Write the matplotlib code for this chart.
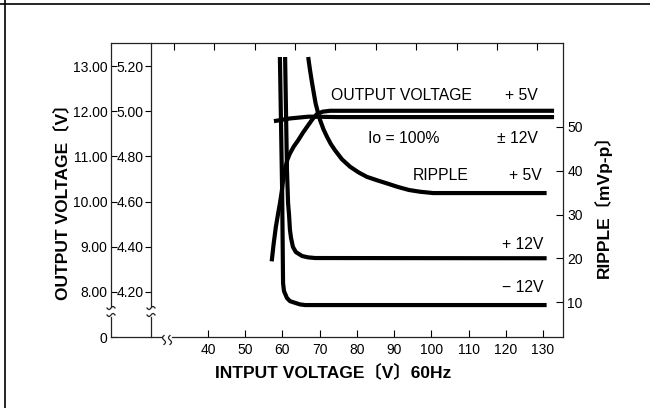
import numpy as np
import matplotlib
matplotlib.use("Agg")
import matplotlib.pyplot as plt
from matplotlib.lines import Line2D

plt.rcParams['font.family'] = ['Liberation Sans', 'Noto Sans CJK JP']

W, H = 650, 408

# input voltage (V) / output voltage +5V (5V scale)
out5_x = [57.1, 57.6, 58.2, 58.8, 59.3, 59.8, 60.15, 60.7, 61.3, 62.0, 63.0, 64.2, 65.5, 66.9, 68.2, 69.3, 70.8, 72.8, 133]
out5_y = [4.335, 4.41, 4.486, 4.545, 4.591, 4.645, 4.693, 4.745, 4.785, 4.813, 4.843, 4.871, 4.905, 4.938, 4.968, 4.988, 4.998, 5.002, 5.002]

# output voltage +-12V (12V scale)
out12_x = [57.7, 62, 67, 75, 133]
out12_y = [11.78, 11.84, 11.88, 11.87, 11.87]

# ripple (mVp-p)
rip5_x = [66.9, 67.4, 67.9, 68.4, 68.9, 69.5, 70.1, 71.0, 72.0, 73.0, 74.1, 76.0, 78.2,
          80.5, 82.7, 85.5, 88.1, 91.0, 94.0, 97.0, 100.5, 131]
rip5_y = [66.0, 63.0, 60.3, 57.8, 55.4, 53.4, 51.6, 49.5, 47.7, 46.1, 44.7, 42.6, 40.9,
          39.6, 38.6, 37.8, 37.1, 36.3, 35.6, 35.2, 34.9, 34.9]

rip12p_x = [60.7, 61.2, 61.5, 61.76, 62.0, 62.3, 62.8, 63.6, 65.3, 66.9, 68.8, 131]
rip12p_y = [66.0, 40.2, 32.6, 29.9, 26.5, 24.6, 22.6, 21.4, 20.5, 20.2, 20.05, 20.0]

rip12m_x = [59.3, 59.9, 60.15, 60.4, 61.2, 62.0, 63.4, 64.7, 66.1, 131]
rip12m_y = [66.0, 35.6, 14.3, 12.5, 10.9, 10.2, 9.8, 9.45, 9.3, 9.3]

# ticks
x_ticks = [40, 50, 60, 70, 80, 90, 100, 110, 120, 130]
top_ticks = [30.9, 41.7, 52.5, 63.4, 74.2, 85.1, 95.9, 106.8, 117.6, 128.5]
v12_ticks = [7, 8, 9, 10, 11, 12, 13]
v12_labels = ['0', '8.00', '9.00', '10.00', '11.00', '12.00', '13.00']
v5_ticks = [4.2, 4.4, 4.6, 4.8, 5.0, 5.2]
v5_labels = ['4.20', '4.40', '4.60', '4.80', '5.00', '5.20']
rip_ticks = [10, 20, 30, 40, 50]


def fx(px):
    return px / W


def fy(py):
    return 1 - py / H


fig = plt.figure(figsize=(6.5, 4.08), dpi=100)

# plot box in pixels: x 111..563, y 43..337
ax = fig.add_axes([fx(111), fy(337), fx(563) - fx(111), fy(43) - fy(337)])
ax.set_xlim(13.9, 135.4)
ax.set_ylim(7.0, 13.511)

ax5 = ax.twinx()
ax5.set_ylim(4.0, 5.3022)
axr = ax.twinx()
axr.set_ylim(2.0, 69.2)
axt = ax.twiny()
axt.set_xlim(ax.get_xlim())

for a in (ax, ax5, axr, axt):
    for s in a.spines.values():
        s.set_visible(False)

lw = 3.0
ax5.plot(out5_x, out5_y, color='black', lw=lw, solid_capstyle='butt', solid_joinstyle='round')
ax.plot(out12_x, out12_y, color='black', lw=lw, solid_capstyle='butt', solid_joinstyle='round')
for xs, ys in ((rip5_x, rip5_y), (rip12p_x, rip12p_y), (rip12m_x, rip12m_y)):
    axr.plot(xs, ys, color='black', lw=lw, solid_capstyle='butt', solid_joinstyle='round')

# outer left axis (12V scale)
ax.set_yticks(v12_ticks)
ax.set_yticklabels(v12_labels)
ax.tick_params(axis='y', direction='in', length=4, width=0.8, pad=2.5, labelsize=10)
ax.set_xticks(x_ticks)
ax.tick_params(axis='x', direction='in', length=5, width=0.8, pad=4, labelsize=10)

# inner left axis (5V scale)
ax5.spines['left'].set_position(('axes', 40 / 452))
ax5.yaxis.set_ticks_position('left')
ax5.set_yticks(v5_ticks)
ax5.set_yticklabels(v5_labels)
ax5.tick_params(axis='y', direction='out', length=4, width=0.8, pad=1.5, labelsize=10)

# ripple axis
axr.set_yticks(rip_ticks)
axr.tick_params(axis='y', direction='in', length=5, width=0.8, pad=3, labelsize=10)

# top ticks
axt.set_xticks(top_ticks)
axt.tick_params(axis='x', direction='in', length=5, width=0.8, labeltop=False)


def seg(xs, ys, lw=0.9, color='#222222'):
    fig.add_artist(Line2D([fx(v) for v in xs], [fy(v) for v in ys], lw=lw, color=color))


# frame lines of the plot
seg([111, 563], [43, 43])
seg([563, 563], [43, 337])
seg([111, 162], [337, 337])
seg([172, 563], [337, 337])
t = np.linspace(-1, 1, 25)
for xa in (111, 151):
    seg([xa, xa], [43, 307])
    seg([xa, xa], [317, 337])
    for yb in (308, 315):
        seg(xa + 4 * t, yb - 1.5 * np.sin(np.pi * t))
for xb in (164, 170):
    seg(xb + 1.5 * np.sin(np.pi * t), 340 + 4.5 * t)

# outer border of the picture
seg([0, 650], [4, 4], lw=1.2, color='black')
seg([5, 5], [0, 408], lw=1.2, color='black')

# annotations
fs = 11.3
fig.text(fx(331), fy(100), 'OUTPUT VOLTAGE', fontsize=fs, ha='left', va='baseline')
fig.text(fx(538), fy(100), '+ 5V', fontsize=fs, ha='right', va='baseline')
fig.text(fx(368), fy(143), 'Io = 100%', fontsize=fs, ha='left', va='baseline')
fig.text(fx(538), fy(143), '± 12V', fontsize=fs, ha='right', va='baseline')
fig.text(fx(413), fy(180), 'RIPPLE', fontsize=fs, ha='left', va='baseline')
fig.text(fx(542), fy(180), '+ 5V', fontsize=fs, ha='right', va='baseline')
fig.text(fx(543), fy(249), '+ 12V', fontsize=fs, ha='right', va='baseline')
fig.text(fx(543), fy(292), '− 12V', fontsize=fs, ha='right', va='baseline')

# axis titles
fig.text(fx(62), fy(198), 'OUTPUT VOLTAGE〔V〕', rotation=90, fontsize=12.5,
         fontweight='bold', ha='center', va='center')
fig.text(fx(333), fy(372), 'INTPUT VOLTAGE〔V〕60Hz', fontsize=12.5,
         fontweight='bold', ha='center', va='center')
fig.text(fx(603), fy(202), 'RIPPLE〔mVp-p〕', rotation=90, fontsize=12.5,
         fontweight='bold', ha='center', va='center')

fig.savefig('out.png', dpi=100)
